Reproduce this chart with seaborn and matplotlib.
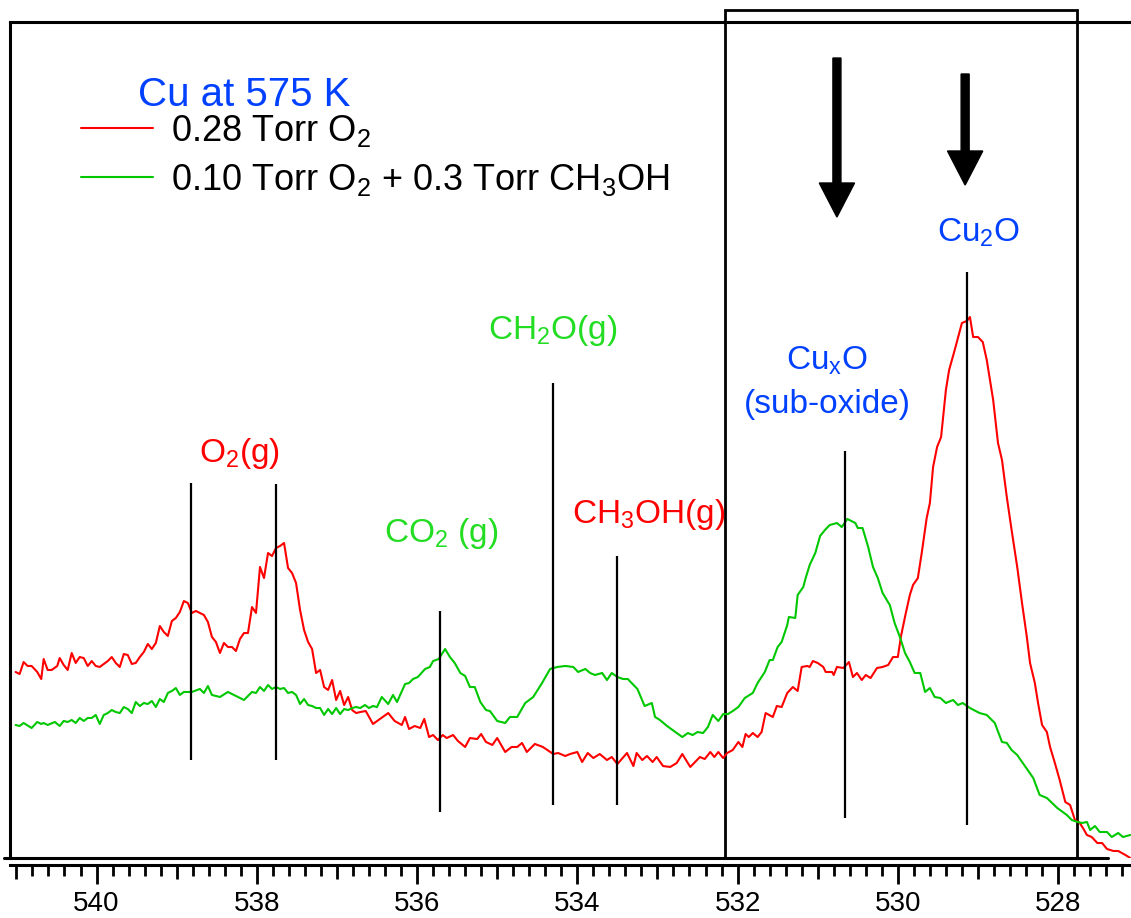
import numpy as np
import pandas as pd
import seaborn as sns
import matplotlib.pyplot as plt
from matplotlib.ticker import MultipleLocator, FuncFormatter
from matplotlib.patches import Rectangle

# O 1s spectra, binding energy (eV) vs intensity (arb. units, 0-100 on the plot)
red_be = [541.01, 540.96, 540.91, 540.86, 540.81, 540.74, 540.69, 540.66, 540.61, 540.56,
          540.49, 540.46, 540.41, 540.36, 540.31, 540.26, 540.21, 540.16, 540.11, 540.06,
          540.01, 539.96, 539.91, 539.86, 539.81, 539.76, 539.71, 539.66, 539.61, 539.56,
          539.51, 539.46, 539.41, 539.36, 539.31, 539.26, 539.21, 539.16, 539.11, 539.06,
          539.01, 538.96, 538.91, 538.86, 538.81, 538.76, 538.71, 538.66, 538.61, 538.56,
          538.51, 538.46, 538.41, 538.36, 538.31, 538.26, 538.21, 538.16, 538.11, 538.06,
          538.01, 537.96, 537.91, 537.86, 537.81, 537.76, 537.71, 537.66, 537.61, 537.56,
          537.51, 537.46, 537.41, 537.36, 537.31, 537.26, 537.21, 537.16, 537.11, 537.06,
          537.01, 536.96, 536.91, 536.86, 536.81, 536.76, 536.71, 536.64, 536.55, 536.48,
          536.36, 536.28, 536.19, 536.15, 536.10, 536.03, 535.96, 535.91, 535.85, 535.80,
          535.74, 535.68, 535.63, 535.55, 535.49, 535.40, 535.34, 535.25, 535.20, 535.14,
          535.06, 535.00, 534.90, 534.82, 534.75, 534.69, 534.63, 534.53, 534.43, 534.30,
          534.24, 534.15, 534.09, 534.00, 533.94, 533.87, 533.80, 533.72, 533.63, 533.57,
          533.50, 533.38, 533.30, 533.26, 533.19, 533.13, 533.06, 533.01, 532.93, 532.84,
          532.76, 532.69, 532.59, 532.47, 532.41, 532.34, 532.29, 532.24, 532.18, 532.13,
          532.06, 531.99, 531.94, 531.90, 531.86, 531.81, 531.75, 531.70, 531.65, 531.56,
          531.51, 531.45, 531.38, 531.31, 531.25, 531.20, 531.13, 531.10, 531.06, 531.00,
          530.93, 530.90, 530.82, 530.80, 530.76, 530.68, 530.61, 530.56, 530.51, 530.45,
          530.40, 530.34, 530.26, 530.19, 530.12, 530.06, 530.00, 529.96, 529.90, 529.85,
          529.81, 529.75, 529.70, 529.64, 529.60, 529.56, 529.51, 529.46, 529.40, 529.36,
          529.29, 529.20, 529.14, 529.10, 529.06, 529.00, 528.94, 528.89, 528.81, 528.75,
          528.70, 528.64, 528.58, 528.51, 528.45, 528.39, 528.35, 528.29, 528.25, 528.20,
          528.14, 528.10, 528.04, 527.98, 527.91, 527.85, 527.79, 527.73, 527.69, 527.64,
          527.58, 527.51, 527.45, 527.39, 527.31, 527.25, 527.16, 527.10]
red_int = [22.25, 22.01, 23.44, 22.97, 22.97, 22.25, 21.41, 23.80, 22.49, 22.49,
           22.97, 23.92, 23.09, 22.49, 24.52, 23.33, 24.04, 23.92, 22.97, 23.56,
           22.97, 22.85, 23.21, 23.56, 24.04, 23.33, 22.85, 24.40, 24.28, 23.21,
           23.33, 24.04, 24.64, 25.60, 25.00, 25.72, 27.75, 27.03, 26.56, 28.35,
           28.71, 29.43, 30.74, 30.50, 29.31, 29.55, 29.31, 29.07, 28.23, 26.44,
           25.84, 24.52, 25.72, 25.24, 25.24, 24.76, 26.20, 26.91, 26.91, 30.02,
           29.31, 34.81, 33.49, 36.48, 36.12, 37.08, 37.32, 37.68, 34.69, 34.09,
           32.89, 29.67, 27.27, 25.84, 25.00, 22.13, 22.49, 20.45, 20.10, 21.29,
           18.90, 19.98, 18.30, 19.26, 17.70, 17.34, 17.46, 17.58, 16.03, 16.51,
           17.34, 16.39, 15.91, 16.87, 15.43, 15.79, 15.55, 16.63, 14.47, 14.71,
           14.11, 14.71, 14.35, 14.71, 14.00, 13.28, 14.35, 14.23, 14.83, 13.88,
           13.52, 14.35, 12.68, 13.28, 13.28, 13.76, 12.68, 13.64, 13.28, 12.44,
           12.56, 12.20, 12.44, 12.68, 11.48, 12.56, 11.96, 12.44, 11.72, 12.08,
           11.24, 12.56, 11.00, 12.56, 11.72, 12.20, 11.48, 12.08, 11.00, 10.89,
           11.36, 12.44, 10.89, 12.08, 11.84, 12.68, 12.08, 12.68, 11.96, 12.56,
           12.92, 13.88, 13.28, 14.83, 14.47, 14.95, 14.47, 15.07, 17.34, 16.87,
           18.18, 18.06, 19.74, 20.45, 19.98, 22.85, 22.97, 22.85, 23.56, 23.33,
           22.85, 22.25, 22.25, 21.89, 22.85, 22.73, 23.44, 21.65, 22.13, 21.29,
           21.89, 21.53, 22.73, 22.85, 23.09, 24.04, 24.04, 26.56, 29.31, 31.46,
           32.66, 33.49, 36.60, 40.67, 42.46, 46.77, 49.16, 50.36, 55.98, 58.37,
           60.77, 64.00, 64.23, 64.71, 62.32, 62.32, 61.72, 59.57, 54.78, 49.64,
           47.61, 43.18, 39.23, 34.81, 30.50, 26.44, 23.33, 20.93, 18.54, 15.91,
           15.07, 13.28, 11.36, 9.33, 6.70, 6.34, 4.55, 4.19, 3.59, 2.75,
           2.51, 1.79, 1.79, 1.08, 0.84, 0.84, 0.36, 0.00]

green_be = [541.01, 540.96, 540.91, 540.81, 540.74, 540.69, 540.66, 540.61, 540.52, 540.46,
            540.41, 540.36, 540.31, 540.26, 540.21, 540.16, 540.11, 540.06, 540.01, 539.96,
            539.91, 539.86, 539.81, 539.76, 539.71, 539.66, 539.61, 539.56, 539.51, 539.46,
            539.41, 539.36, 539.31, 539.26, 539.21, 539.16, 539.11, 539.06, 539.01, 538.96,
            538.91, 538.81, 538.71, 538.66, 538.61, 538.56, 538.46, 538.36, 538.26, 538.16,
            538.06, 538.01, 537.96, 537.91, 537.86, 537.81, 537.76, 537.71, 537.66, 537.61,
            537.56, 537.51, 537.46, 537.41, 537.36, 537.31, 537.26, 537.21, 537.16, 537.11,
            537.06, 537.01, 536.96, 536.91, 536.86, 536.81, 536.76, 536.71, 536.65, 536.60,
            536.55, 536.50, 536.44, 536.36, 536.30, 536.25, 536.15, 536.10, 536.05, 535.99,
            535.90, 535.84, 535.80, 535.73, 535.65, 535.59, 535.53, 535.46, 535.40, 535.34,
            535.28, 535.21, 535.14, 535.09, 535.00, 534.90, 534.84, 534.75, 534.65, 534.55,
            534.44, 534.34, 534.25, 534.15, 534.05, 533.99, 533.90, 533.84, 533.78, 533.69,
            533.63, 533.57, 533.50, 533.43, 533.37, 533.25, 533.16, 533.07, 533.03, 532.97,
            532.88, 532.81, 532.69, 532.62, 532.56, 532.50, 532.43, 532.37, 532.31, 532.24,
            532.18, 532.12, 532.06, 531.99, 531.91, 531.81, 531.75, 531.66, 531.60, 531.56,
            531.50, 531.45, 531.38, 531.36, 531.28, 531.25, 531.18, 531.15, 531.10, 531.03,
            530.97, 530.91, 530.85, 530.76, 530.70, 530.63, 530.53, 530.50, 530.44, 530.37,
            530.31, 530.25, 530.19, 530.10, 530.04, 529.97, 529.91, 529.85, 529.79, 529.72,
            529.66, 529.60, 529.54, 529.47, 529.40, 529.31, 529.25, 529.19, 529.10, 528.98,
            528.89, 528.79, 528.70, 528.64, 528.58, 528.51, 528.45, 528.31, 528.23, 528.14,
            528.01, 527.89, 527.83, 527.76, 527.70, 527.64, 527.60, 527.54, 527.48, 527.39,
            527.33, 527.25, 527.19, 527.10]
green_int = [15.91, 15.79, 16.15, 15.55, 16.27, 16.03, 16.15, 15.91, 16.27, 15.79,
             16.39, 16.27, 16.51, 16.15, 16.75, 16.39, 16.75, 16.75, 17.11, 16.03,
             17.11, 17.34, 17.70, 17.46, 17.34, 18.06, 17.82, 17.34, 18.66, 18.18,
             18.54, 18.42, 18.78, 18.06, 19.02, 18.66, 19.74, 19.98, 20.33, 19.50,
             19.86, 19.86, 20.22, 19.74, 20.57, 19.50, 19.26, 19.86, 19.38, 18.90,
             19.86, 19.74, 20.45, 19.98, 20.69, 20.22, 20.45, 20.22, 20.33, 19.74,
             19.86, 19.50, 18.42, 19.02, 18.30, 18.18, 17.94, 17.94, 17.11, 17.82,
             17.22, 17.94, 17.22, 17.82, 17.70, 17.94, 18.06, 17.94, 18.30, 17.94,
             18.18, 18.06, 19.26, 18.42, 19.50, 18.66, 20.81, 20.93, 21.41, 21.65,
             22.61, 22.85, 23.56, 23.80, 25.00, 24.04, 23.33, 22.13, 21.77, 20.45,
             20.45, 18.66, 17.70, 17.58, 16.39, 16.15, 16.87, 16.87, 18.54, 19.26,
             20.93, 22.61, 22.85, 22.97, 22.85, 22.25, 22.61, 22.13, 21.89, 22.13,
             21.29, 22.13, 21.65, 21.41, 21.41, 20.22, 18.18, 18.54, 16.87, 16.51,
             15.79, 15.31, 14.47, 14.95, 14.71, 15.07, 14.95, 15.67, 17.11, 16.39,
             17.22, 17.22, 17.58, 18.06, 19.14, 19.74, 20.93, 22.25, 23.68, 23.68,
             25.24, 25.84, 27.87, 28.83, 28.71, 31.46, 32.42, 33.49, 35.05, 36.48,
             38.52, 39.23, 39.83, 40.07, 39.59, 40.55, 40.07, 39.47, 39.47, 37.20,
             34.81, 33.49, 31.70, 30.26, 28.11, 26.32, 24.52, 23.44, 22.13, 22.13,
             19.86, 20.33, 19.26, 19.14, 18.54, 18.90, 18.30, 18.54, 17.94, 17.34,
             17.11, 16.15, 13.88, 13.76, 12.92, 12.32, 11.48, 9.57, 7.54, 7.18,
             5.98, 5.14, 4.55, 4.31, 4.19, 4.31, 3.35, 3.83, 3.11, 3.11,
             2.51, 2.99, 2.51, 2.75]

series_labels = ["0.28 Torr O$_2$", "0.10 Torr O$_2$ + 0.3 Torr CH$_3$OH"]

# peak markers: position, bottom, top
marker_be = [538.82, 537.76, 535.71, 534.30, 533.50, 530.66, 529.14]
marker_lo = [11.72, 11.72, 5.50, 6.34, 6.34, 4.78, 3.95]
marker_hi = [44.86, 44.74, 29.55, 56.82, 36.12, 48.68, 70.10]

RED = "#ff0000"
GREEN = "#00c800"
GREEN_TXT = "#22dd22"
BLUE = "#0040ff"

sns.set_style("white")
plt.rcParams["font.family"] = ["Liberation Sans", "DejaVu Sans"]
plt.rcParams["mathtext.default"] = "regular"
plt.rcParams["text.color"] = "black"
plt.rcParams["xtick.color"] = "black"

fig = plt.figure(figsize=(11.31, 9.18), dpi=100)
ax = fig.add_axes([10 / 1131, 60 / 918, 1121 / 1131, 836 / 918])

df_red = pd.DataFrame({"be": red_be, "intensity": red_int})
df_green = pd.DataFrame({"be": green_be, "intensity": green_int})
sns.lineplot(data=df_red, x="be", y="intensity", color=RED, lw=1.5,
             estimator=None, label=series_labels[0], ax=ax)
sns.lineplot(data=df_green, x="be", y="intensity", color=GREEN, lw=1.5,
             estimator=None, label=series_labels[1], ax=ax)

ax.vlines(marker_be, marker_lo, marker_hi, color="black", lw=1.6)

ax.set_xlim(541.08, 527.09)
ax.set_ylim(0, 100)
ax.set_xlabel("")
ax.set_ylabel("")
ax.set_yticks([])

# spines
for s in ["left", "top", "bottom"]:
    ax.spines[s].set_linewidth(2.2)
    ax.spines[s].set_color("black")
ax.spines["right"].set_visible(False)
ax.spines["bottom"].set_position(("outward", 5))

ax.xaxis.set_major_locator(MultipleLocator(1))
ax.xaxis.set_minor_locator(MultipleLocator(0.2))
ax.xaxis.set_major_formatter(FuncFormatter(lambda v, p: f"{v:.0f}" if round(v) % 2 == 0 else ""))
ax.tick_params(axis="x", which="major", direction="out", length=10, width=2,
               labelsize=20, pad=9, bottom=True, labelcolor="black")
ax.tick_params(axis="x", which="minor", direction="out", length=8, width=2, bottom=True)
fig.canvas.draw()
for t in ax.xaxis.get_major_ticks():
    if round(t.get_loc()) % 2 == 0:
        t.tick1line.set_markersize(13.5)

# box around the oxide region and the base line
ax.add_patch(Rectangle((532.16, 0), 527.76 - 532.16, 101.44, fill=False,
                       ec="black", lw=2, clip_on=False))
ax.plot([541.155, 527.38], [0, 0], color="black", lw=2.2, clip_on=False)

# arrows
ax.arrow(530.76, 95.69, 0, -19.02, width=0.1, head_width=0.44, head_length=4.07,
         length_includes_head=True, color="black")
ax.arrow(529.16, 93.78, 0, -13.28, width=0.1, head_width=0.44, head_length=4.07,
         length_includes_head=True, color="black")

# labels
ax.text(539.48, 89.95, "Cu at 575 K", color=BLUE, fontsize=29, ha="left", va="baseline")
ax.text(538.21, 47.37, "O$_2$(g)", color=RED, fontsize=24, ha="center", va="baseline")
ax.text(536.41, 37.80, "CO$_2$ (g)", color=GREEN_TXT, fontsize=24, ha="left", va="baseline")
ax.text(535.12, 62.08, "CH$_2$O(g)", color=GREEN_TXT, fontsize=24, ha="left", va="baseline")
ax.text(534.07, 40.07, "CH$_3$OH(g)", color=RED, fontsize=24, ha="left", va="baseline")
ax.text(530.88, 58.37, "Cu$_x$O", color=BLUE, fontsize=24, ha="center", va="baseline")
ax.text(530.88, 53.23, "(sub-oxide)", color=BLUE, fontsize=24, ha="center", va="baseline")
ax.text(528.99, 73.68, "Cu$_2$O", color=BLUE, fontsize=24, ha="center", va="baseline")

leg = ax.legend(loc="upper left", bbox_to_anchor=(0.0633, 0.891), frameon=False,
                fontsize=26, handlelength=2.0, handletextpad=0.5, borderpad=0,
                borderaxespad=0, labelspacing=0.35)
for txt in leg.get_texts():
    txt.set_color("black")

fig.savefig("out.png", dpi=100)
